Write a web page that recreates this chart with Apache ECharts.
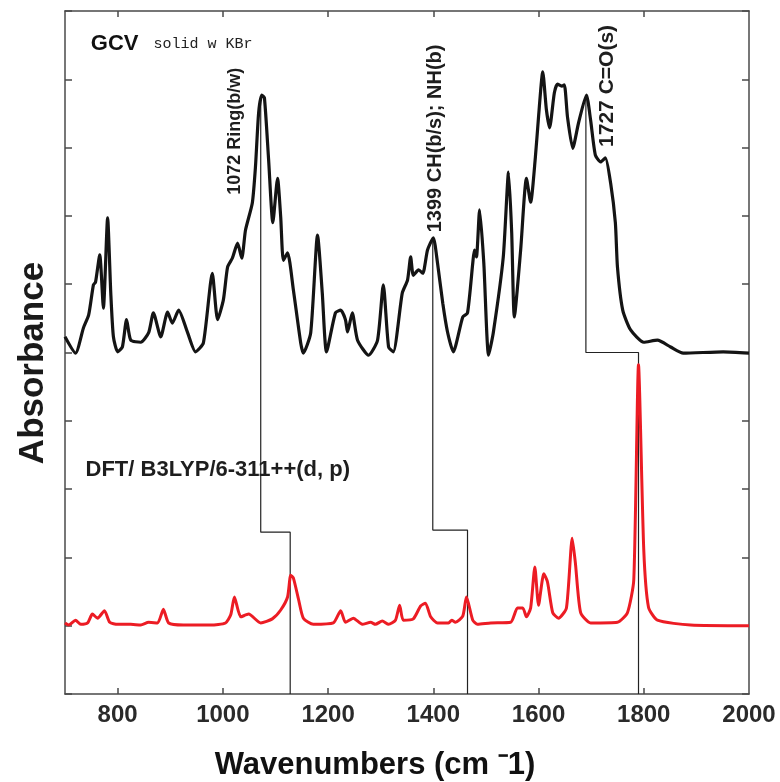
<!DOCTYPE html>
<html>
<head>
<meta charset="utf-8">
<script src="https://cdn.jsdelivr.net/npm/echarts@6/dist/echarts.min.js"></script>
<style>html,body{margin:0;padding:0;background:#fff}#c{width:780px;height:782px}</style>
</head>
<body>
<div id="c"></div>
<script>
// Experimental spectrum (GCV solid w KBr)
const blackWn = [700,720,735,745,754,758,766,773,781,787,792,800,809,817,825,844,859,868,882,895,904,916,933,948,963,980,990,1001,1009,1018,1028,1036,1043,1056,1062,1068,1074,1079,1087,1095,1104,1110,1115,1123,1134,1148,1153,1167,1180,1189,1197,1214,1224,1233,1237,1246,1256,1277,1294,1305,1315,1324,1341,1351,1357,1362,1372,1380,1389,1400,1408,1418,1427,1438,1456,1465,1475,1478,1482,1488,1496,1505,1514,1533,1543,1549,1554,1566,1577,1585,1594,1600,1608,1615,1621,1630,1636,1644,1649,1655,1665,1676,1691,1699,1708,1718,1727,1737,1746,1750,1760,1775,1800,1826,1851,1875,1951,2000];
const blackAbs = [5.23,4.99,5.36,5.55,5.99,6.03,6.43,5.65,6.97,5.87,5.23,5.01,5.08,5.48,5.18,5.15,5.29,5.58,5.23,5.59,5.43,5.62,5.29,5.01,5.14,6.16,5.48,5.77,6.25,6.38,6.60,6.38,6.79,7.19,7.72,8.51,8.77,8.73,7.82,6.90,7.55,6.98,6.35,6.46,5.92,5.14,4.99,5.29,6.72,5.87,5.01,5.58,5.62,5.48,5.30,5.58,5.18,4.96,5.18,5.99,5.08,5.01,5.87,6.06,6.40,6.13,6.21,6.16,6.50,6.68,6.31,5.72,5.30,5.01,5.52,5.58,6.31,6.50,6.40,7.09,6.31,4.96,5.29,6.40,7.64,6.75,5.52,6.50,7.55,7.20,7.86,8.45,9.11,8.55,8.29,8.80,8.93,8.90,8.92,8.45,7.99,8.36,8.77,8.40,7.89,7.79,7.85,7.48,6.90,6.25,5.62,5.33,5.15,5.18,5.08,4.99,5.01,4.99];

// DFT/B3LYP computed spectrum
const redWn = [700,707,720,730,743,752,762,775,785,800,825,844,859,876,887,897,925,977,1005,1015,1022,1034,1049,1072,1094,1110,1123,1129,1134,1144,1153,1172,1210,1224,1233,1248,1265,1281,1290,1303,1315,1328,1336,1343,1362,1376,1385,1395,1408,1429,1435,1442,1456,1463,1475,1484,1509,1547,1560,1570,1577,1585,1593,1600,1610,1617,1627,1638,1653,1664,1670,1680,1699,1750,1769,1781,1790,1800,1809,1826,1889,2000];
const redAbs = [1.04,1.01,1.08,1.02,1.04,1.17,1.11,1.22,1.05,1.02,1.02,1.01,1.05,1.04,1.24,1.04,1.01,1.01,1.04,1.16,1.42,1.13,1.17,1.04,1.10,1.23,1.42,1.74,1.70,1.38,1.11,1.02,1.04,1.22,1.05,1.11,1.02,1.05,1.02,1.07,1.02,1.08,1.30,1.08,1.10,1.29,1.33,1.13,1.04,1.04,1.08,1.05,1.14,1.42,1.08,1.02,1.04,1.05,1.26,1.26,1.13,1.26,1.86,1.30,1.76,1.64,1.19,1.11,1.26,2.28,1.92,1.19,1.04,1.05,1.19,1.67,4.82,2.11,1.27,1.08,1.01,1.00];

// Correlation step connectors (experimental -> computed)
const stepAWn = [1072,1072,1128,1128];
const stepAAbs = [8.72,2.37,2.37,0];
const stepBWn = [1399,1399,1465,1465];
const stepBAbs = [6.68,2.40,2.40,0];
const stepCWn = [1690,1690,1790,1790];
const stepCAbs = [8.77,5.0,5.0,0];

// Peak annotations (anchor = start of rotated text)
const peakLabels = ['1072 Ring(b/w)', '1399 CH(b/s); NH(b)', '1727 C=O(s)'];
const peakLabelWn = [1024, 1404, 1731];
const peakLabelAbs = [7.31, 6.76, 8.01];

// Tick labels
const xTickValues = [800,1000,1200,1400,1600,1800,2000];
const xTopTicks = [800,1000,1200,1400,1600,1800];

const zip = (a, b) => a.map((v, i) => [v, b[i]]);

const chart = echarts.init(document.getElementById('c'));
const axisLineStyle = { color: '#4a4a4a', width: 1.5 };
const peakFonts = [18, 20, 21];

const option = {
  backgroundColor: '#fff',
  animation: false,
  grid: { left: 65, right: 31, top: 11, bottom: 88 },
  xAxis: [
    {
      type: 'value', min: 700, max: 2000, position: 'bottom',
      axisLine: { show: true, lineStyle: axisLineStyle },
      axisTick: { show: true, inside: true, length: 6, lineStyle: axisLineStyle, customValues: xTopTicks },
      axisLabel: { show: true, customValues: xTickValues, margin: 9, fontSize: 24, fontWeight: 'bold',
        formatter: v => String(v),
        color: '#2a2a2a', fontFamily: 'Liberation Sans, Arial, sans-serif' },
      splitLine: { show: false }
    },
    {
      type: 'value', min: 700, max: 2000, position: 'top',
      axisLine: { show: true, onZero: false, lineStyle: axisLineStyle },
      axisTick: { show: true, inside: true, length: 6, lineStyle: axisLineStyle, customValues: xTopTicks },
      axisLabel: { show: false },
      splitLine: { show: false }
    }
  ],
  yAxis: [
    {
      type: 'value', min: 0, max: 10, interval: 1, position: 'left',
      axisLine: { show: true, onZero: false, lineStyle: axisLineStyle },
      axisTick: { show: true, inside: true, length: 7, lineStyle: axisLineStyle },
      axisLabel: { show: false },
      splitLine: { show: false }
    },
    {
      type: 'value', min: 0, max: 10, interval: 1, position: 'right',
      axisLine: { show: true, onZero: false, lineStyle: axisLineStyle },
      axisTick: { show: true, inside: true, length: 7, lineStyle: axisLineStyle },
      axisLabel: { show: false },
      splitLine: { show: false }
    }
  ],
  series: [
    { type: 'line', data: zip(stepAWn, stepAAbs), showSymbol: false, symbol: 'none',
      lineStyle: { color: '#222', width: 1.2 }, z: 1 },
    { type: 'line', data: zip(stepBWn, stepBAbs), showSymbol: false, symbol: 'none',
      lineStyle: { color: '#222', width: 1.2 }, z: 1 },
    { type: 'line', data: zip(stepCWn, stepCAbs), showSymbol: false, symbol: 'none',
      lineStyle: { color: '#222', width: 1.2 }, z: 1 },
    { type: 'line', data: zip(redWn, redAbs), showSymbol: false, symbol: 'none', smooth: 0.2,
      lineStyle: { color: '#ec1c24', width: 3 }, z: 2 },
    { type: 'line', data: zip(blackWn, blackAbs), showSymbol: false, symbol: 'none', smooth: 0.2,
      lineStyle: { color: '#141414', width: 3.2 }, z: 3 },
    { type: 'scatter', symbolSize: 0, silent: true, z: 5, itemStyle: { opacity: 1 },
      data: peakLabels.map((t, i) => ({
        value: [peakLabelWn[i], peakLabelAbs[i]], name: t,
        label: { show: true, formatter: t, position: [0, 0], rotate: 90, align: 'left', verticalAlign: 'middle',
          fontSize: peakFonts[i], fontWeight: 'bold', color: '#1e1e1e', opacity: 1, fontFamily: 'Liberation Sans, Arial, sans-serif' }
      }))
    },
    { type: 'scatter', symbolSize: 0, silent: true, z: 5, itemStyle: { opacity: 1 },
      data: [
        { value: [749, 9.52], label: { show: true, formatter: 'GCV', position: [0, 0], align: 'left', verticalAlign: 'middle',
            fontSize: 22, fontWeight: 'bold', color: '#111', opacity: 1, fontFamily: 'Liberation Sans, Arial, sans-serif' } },
        { value: [868, 9.52], label: { show: true, formatter: 'solid w KBr', position: [0, 0], align: 'left', verticalAlign: 'middle',
            fontSize: 15, color: '#222', opacity: 1, fontFamily: 'Liberation Mono, Courier New, monospace' } },
        { value: [739, 3.28], label: { show: true, formatter: 'DFT/ B3LYP/6-311++(d, p)', position: [0, 0], align: 'left', verticalAlign: 'middle',
            fontSize: 22, fontWeight: 'bold', color: '#1e1e1e', opacity: 1, fontFamily: 'Liberation Sans, Arial, sans-serif' } }
      ]
    }
  ],
  graphic: [
    { type: 'text', x: 33, y: 363, rotation: Math.PI / 2,
      style: { text: 'Absorbance', font: 'bold 35px "Liberation Sans", Arial, sans-serif', fill: '#1a1a1a',
        textAlign: 'center', textVerticalAlign: 'middle' } },
    { type: 'text', x: 375, y: 765,
      style: { text: 'Wavenumbers (cm \u207B1)', font: 'bold 31px "Liberation Sans", Arial, sans-serif', fill: '#111',
        textAlign: 'center', textVerticalAlign: 'middle' } }
  ]
};
chart.setOption(option);
</script>
</body>
</html>
